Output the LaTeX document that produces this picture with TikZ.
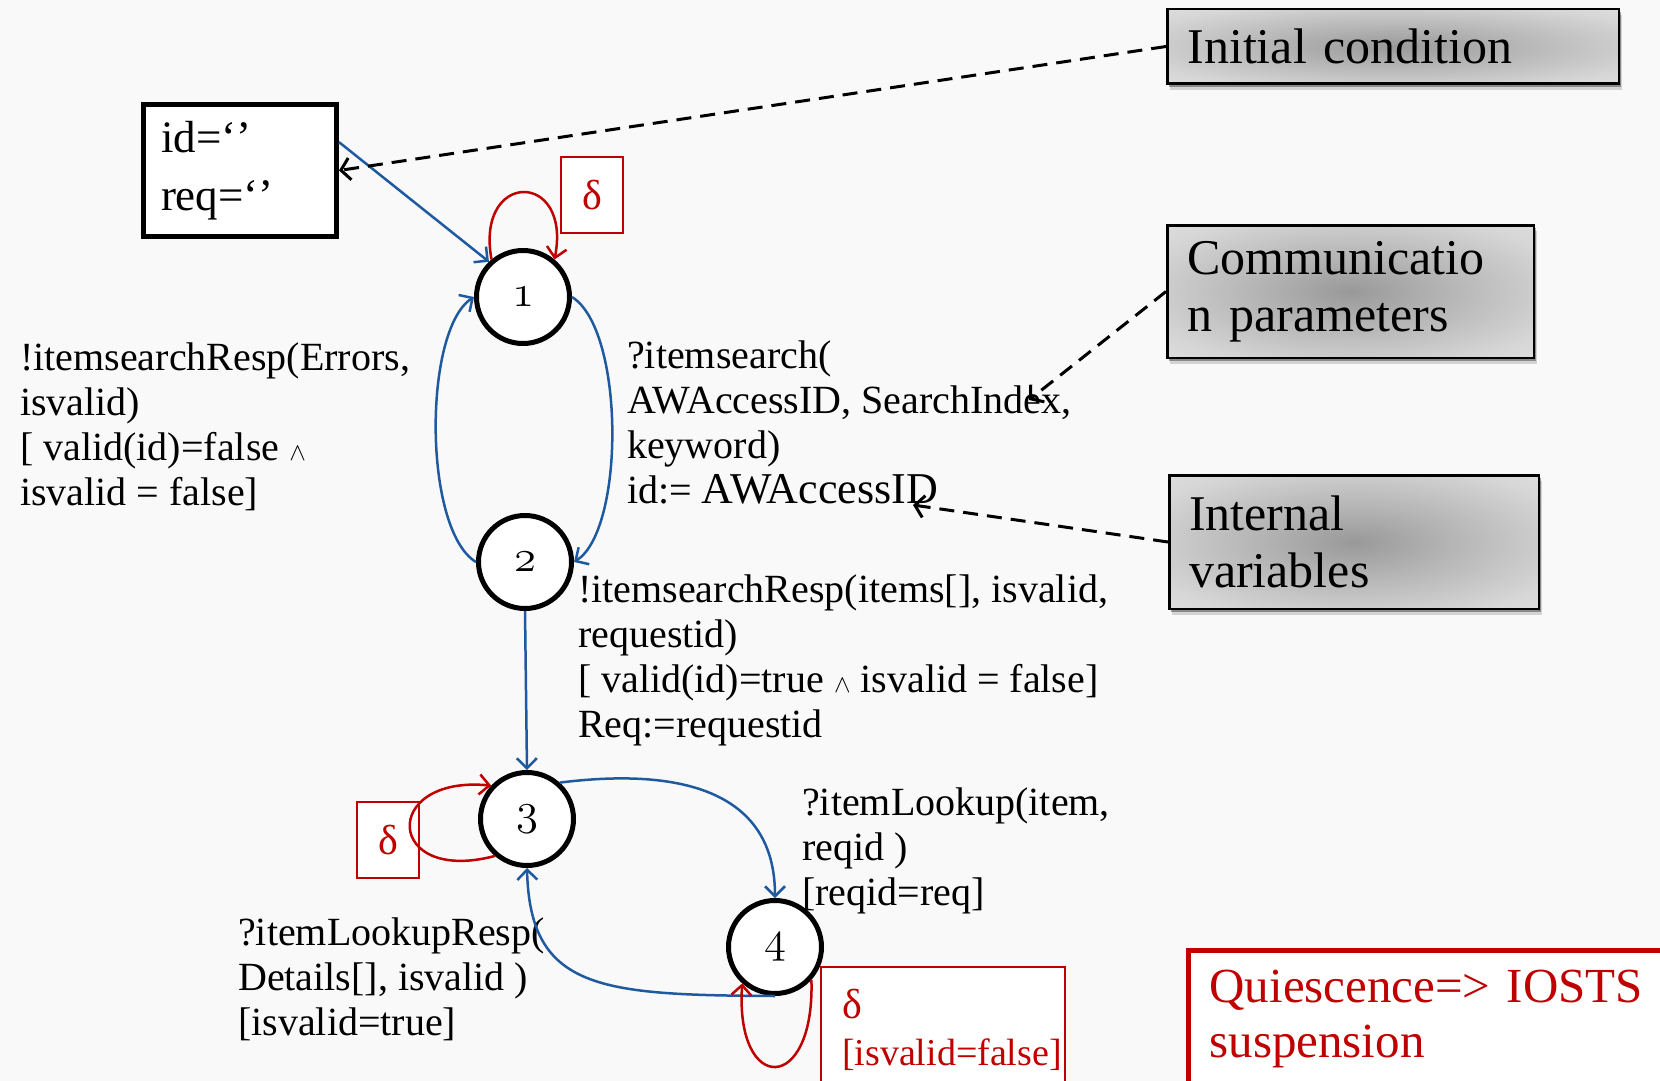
\documentclass[tikz,border=0pt]{standalone}
\usepackage{fontspec}
\setmainfont{Liberation Serif}
\usetikzlibrary{arrows.meta,shadows}
\definecolor{edgeblue}{RGB}{31,90,160}
\definecolor{quietred}{RGB}{192,0,0}
\definecolor{paper}{RGB}{249,249,249}
% soft grey fill of the annotation boxes
\pgfdeclareradialshading{notegray}{\pgfpoint{0bp}{0bp}}{%
  color(0bp)=(black!40); color(12bp)=(black!30); color(30bp)=(black!16); color(50bp)=(black!7)}
% old-style state numbers
\newcommand{\statenum}[1]{\scalebox{1.8}{\fontsize{24.88}{24.88}\usefont{OML}{cmm}{m}{it}#1}}
\begin{document}
\begin{tikzpicture}[x=1pt,y=-1pt,
  lbl/.style={font=\fontsize{40}{45}\selectfont, align=left, inner sep=0pt, anchor=base west},
  state/.style={circle, draw=black, line width=5pt, fill=white, minimum size=93pt, inner sep=0pt},
  trans/.style={draw=edgeblue, line width=2.5pt, -{Straight Barb[length=10pt,width=20pt]}},
  quiet/.style={draw=quietred, line width=2.5pt, -{Straight Barb[length=10pt,width=20pt]}},
  pointer/.style={draw=black, line width=3pt, dash pattern=on 15pt off 9pt,
    -{Straight Barb[length=9pt,width=22pt]}},
  note/.style={draw=black, line width=2.5pt, shading=notegray, align=left,
    inner xsep=0pt, font=\fontsize{50}{57}\selectfont,
    drop shadow={shadow xshift=3pt, shadow yshift=-6pt, opacity=0.15, fill=black},
    drop shadow={shadow xshift=2pt, shadow yshift=-3pt, opacity=0.35, fill=black}},
  deltabox/.style={draw=quietred, line width=2pt, text=quietred, fill=white,
    font=\fontsize{42}{47}\selectfont}
]
\useasboundingbox (0,0) rectangle (1660,1081);
\clip (0,0) rectangle (1660,1081);
\fill[paper] (0,0) rectangle (1660,1081);

% annotation boxes
\node[note, minimum width=451.5pt, minimum height=74.5pt, text width=411pt] (initc) at (1393,46.5) {Initial condition};
\node[note, minimum width=366.5pt, minimum height=132.5pt, text width=326pt] (comm) at (1350.5,291.5) {Communicatio\\n parameters};
\node[note, minimum width=369.5pt, minimum height=133.5pt, text width=330pt] (intv) at (1354,542) {Internal\\variables};

% initial valuation of the variables
\node[draw=black, line width=5pt, fill=white, minimum width=193pt, minimum height=132pt,
      align=left, text width=158pt, inner xsep=0pt, font=\fontsize{45}{58}\selectfont] (idbox) at (240,170.5) {id=‘’\\req=‘’};

% quiescence boxes
\node[deltabox, minimum width=62pt, minimum height=76pt] (d1) at (592,195) {δ};
\node[deltabox, minimum width=62pt, minimum height=76pt] (d3) at (388,840) {δ};
\node[deltabox, anchor=north west, align=left, text width=202pt, inner xsep=21pt, inner ysep=22pt] (d4) at (820,966) {δ\\{\fontsize{38}{47}\selectfont[isvalid=false]}};
\node[draw=quietred, line width=5pt, fill=white, text=quietred, anchor=north west, align=left,
      text width=470pt, inner xsep=21.5pt, inner ysep=20.5pt, font=\fontsize{49}{55}\selectfont] (quies) at (1185.5,947.5) {Quiescence=> IOSTS\\suspension};

% states
\node[state] (s1) at (523,297) {\statenum{1}};
\node[state] (s2) at (525,562) {\statenum{2}};
\node[state] (s3) at (527,819) {\statenum{3}};
\node[state] (s4) at (775,947) {\statenum{4}};

% transition labels (anchored on the baseline of their last line)
\node[lbl] (lerr) at (20,505) {!itemsearchResp(Errors,\\isvalid)\\{[} valid(id)=false $\wedge$\\isvalid = false]};
\node[lbl] (lsrch) at (627,503) {?itemsearch(\\AWAccessID, SearchIndex,\\keyword)\\id:= {\fontsize{44}{45}\selectfont AWAccessID}};
\node[lbl] (lresp) at (578,737) {!itemsearchResp(items[], isvalid,\\requestid)\\{[} valid(id)=true $\wedge$ isvalid = false]\\Req:=requestid};
\node[lbl] (llook) at (802,905) {?itemLookup(item,\\reqid )\\{[}reqid=req]};
\node[lbl] (llresp) at (238,1035) {?itemLookupResp(\\Details[], isvalid )\\{[}isvalid=true]};

% transitions
\draw[trans] (idbox.16) -- (s1.134);
\draw[trans] (s1.east) .. controls (625,330) and (625,530) .. (s2.east);
\draw[trans] (s2.west) .. controls (423,530) and (423,330) .. (s1.west);
\draw[trans] (s2.south) -- (s3.north);
\draw[trans] (s3.48) .. controls (660,770) and (775,780) .. (s4.north);
\draw[trans] (s4.south) .. controls (600,995) and (530,990) .. (s3.south);

% quiescent self-loops
\draw[quiet] (s1.130) .. controls (475,170) and (572,170) .. (s1.50);
\draw[quiet] (s3.229) .. controls (385,885) and (380,775) .. (s3.137);
\draw[quiet] (s4.-42) .. controls (815,1095) and (735,1095) .. (s4.228);

% annotation pointers
\coordinate (cparam) at (1029,400);
\coordinate (ivar) at (913,505);
\draw[pointer] (initc.west) -- (idbox.east);
\draw[pointer] (comm.west) -- (cparam);
\draw[pointer] (intv.west) -- (ivar);
\end{tikzpicture}
\end{document}
